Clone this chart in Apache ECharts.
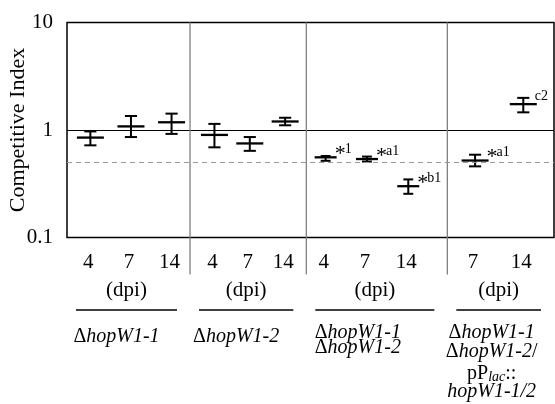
<!DOCTYPE html>
<html>
<head>
<meta charset="utf-8">
<script src="https://cdn.jsdelivr.net/npm/echarts@6/dist/echarts.min.js"></script>
<style>
  html, body { margin: 0; padding: 0; background: #fff; }
  #chart { width: 555px; height: 404px; }
</style>
</head>
<body>
<div id="chart"></div>
<script>
// strain groups (rich text markup)
const groups = [
  "{d|Δ}{i|hopW1-1}",
  "{d|Δ}{i|hopW1-2}",
  "{d|Δ}{i|hopW1-1}\n{d|Δ}{i|hopW1-2}",
  "{d|Δ}{i|hopW1-1}\n{d|Δ}{i|hopW1-2}{n|/}\n{n|pP}{s|lac}{n|::}\n{i|hopW1-1/2}"
];
// one entry per point
const pointGroup = [0, 0, 0, 1, 1, 1, 2, 2, 2, 3, 3];
const dpi = ["4", "7", "14", "4", "7", "14", "4", "7", "14", "7", "14"];
const meanCI = [0.85, 1.08, 1.18, 0.90, 0.75, 1.20, 0.557, 0.537, 0.30, 0.52, 1.74];
const lowCI = [0.72, 0.86, 0.92, 0.69, 0.64, 1.106, 0.517, 0.509, 0.255, 0.459, 1.46];
const highCI = [0.97, 1.35, 1.42, 1.14, 0.86, 1.30, 0.573, 0.566, 0.347, 0.589, 1.99];
const marks = ["", "", "", "", "", "", "*1", "*a1", "*b1", "*a1", "c2"];
const yTicks = [0.1, 1, 10];
const threshold = 0.5;

// layout of the panels along the x axis (0..100)
const panelEdges = [0, 25.26, 49.14, 78.1, 100];
const panelLead = [0.19, 0.21, 0.137, 0.26];
const panelStep = [0.33, 0.304, 0.293, 0.452];
const panelBarHalf = [13.5, 13.5, 11, 13.5];
const labelShift = [-10, -10, -17, -7];

const FONT = "Liberation Serif";

const pointX = pointGroup.map((g, i) => {
  const k = pointGroup.slice(0, i).filter((v) => v === g).length;
  const w = panelEdges[g + 1] - panelEdges[g];
  return panelEdges[g] + w * (panelLead[g] + k * panelStep[g]);
});

const pointData = meanCI.map((m, i) => [pointX[i], m, lowCI[i], highCI[i]]);
const panelData = groups.map((g, i) => [panelEdges[i], panelEdges[i + 1]]);

function line(x1, y1, x2, y2, style) {
  return { type: "line", shape: { x1, y1, x2, y2 }, style };
}

function txt(text, x, y, size, extra) {
  return {
    type: "text",
    style: Object.assign({
      text, x, y, align: "center", verticalAlign: "middle",
      fontFamily: FONT, fontSize: size, fill: "#000",
    }, extra || {}),
  };
}

const chart = echarts.init(document.getElementById("chart"));
chart.setOption({
  animation: false,
  grid: {
    left: 67, right: 1, top: 22.5, bottom: 166.5,
    outerBoundsMode: "none",
    show: true, borderColor: "#000", borderWidth: 1.5,
  },
  xAxis: { type: "value", min: 0, max: 100, show: false },
  yAxis: {
    type: "log", logBase: 10, min: yTicks[0], max: yTicks[yTicks.length - 1],
    name: "Competitive Index", nameLocation: "middle", nameRotate: 90, nameGap: 38,
    nameMoveOverlap: false,
    nameTextStyle: { fontFamily: FONT, fontSize: 22, color: "#000" },
    axisLine: { show: false },
    axisTick: { show: false },
    axisLabel: { fontFamily: FONT, fontSize: 21, color: "#000", margin: 14 },
    splitLine: { show: true, lineStyle: { color: "#000", width: 1.2 } },
  },
  series: [
    {
      type: "line",
      data: [],
      markLine: {
        silent: true, symbol: "none", label: { show: false },
        lineStyle: { color: "#999", type: [5, 4], width: 1.2 },
        data: [{ yAxis: threshold }],
      },
    },
    {
      type: "custom",
      clip: false,
      data: panelData,
      renderItem(params, api) {
        const p = params.dataIndex;
        const a = api.coord([api.value(0), 10]);
        const b = api.coord([api.value(1), 0.1]);
        const left = a[0], right = b[0], top = a[1], bottom = b[1];
        const children = [];
        if (p > 0) {
          children.push(line(left, top, left, bottom + 37, { stroke: "#808080", lineWidth: 1.3 }));
        }
        const u1 = left + 9, u2 = right - 13;
        const uc = (u1 + u2) / 2;
        const single = groups[p].indexOf("\n") < 0;
        children.push(line(u1, bottom + 72.5, u2, bottom + 72.5, { stroke: "#000", lineWidth: 1.3 }));
        children.push(txt("(dpi)", uc, bottom + 53, 21));
        children.push(txt(groups[p], uc + labelShift[p], bottom + (single ? 92 : 88), 20, {
          verticalAlign: "top",
          rich: {
            d: { fontFamily: FONT, fontSize: 20, lineHeight: 15 },
            i: { fontFamily: FONT, fontSize: 20, fontStyle: "italic", lineHeight: 15 },
            n: { fontFamily: FONT, fontSize: 20, lineHeight: 22 },
            s: { fontFamily: FONT, fontSize: 14, fontStyle: "italic", lineHeight: 22, verticalAlign: "bottom", padding: [6, 0, 0, 0] },
          },
        }));
        return { type: "group", children };
      },
    },
    {
      type: "custom",
      clip: false,
      data: pointData,
      renderItem(params, api) {
        const i = params.dataIndex;
        const half = panelBarHalf[pointGroup[i]];
        const cap = half * 0.45;
        const x = api.value(0);
        const c = api.coord([x, api.value(1)]);
        const lo = api.coord([x, api.value(2)]);
        const hi = api.coord([x, api.value(3)]);
        const base = api.coord([x, 0.1]);
        const st = { stroke: "#000", lineWidth: 2 };
        const children = [
          line(c[0], lo[1], c[0], hi[1], st),
          line(c[0] - cap, lo[1], c[0] + cap, lo[1], st),
          line(c[0] - cap, hi[1], c[0] + cap, hi[1], st),
          line(c[0] - half, c[1], c[0] + half, c[1], { stroke: "#000", lineWidth: 2.3 }),
          txt(dpi[i], c[0] - 2, base[1] + 25, 21),
        ];
        const m = marks[i];
        if (m) {
          let mx = c[0] + half - 2;
          let sup = m;
          if (m.startsWith("*")) {
            children.push(txt("*", mx, c[1] - 3, 22, { align: "left" }));
            mx += 10;
            sup = m.slice(1);
          }
          children.push(txt(sup, mx, c[1] - 8, 14, { align: "left" }));
        }
        return { type: "group", children };
      },
    },
  ],
});
</script>
</body>
</html>
